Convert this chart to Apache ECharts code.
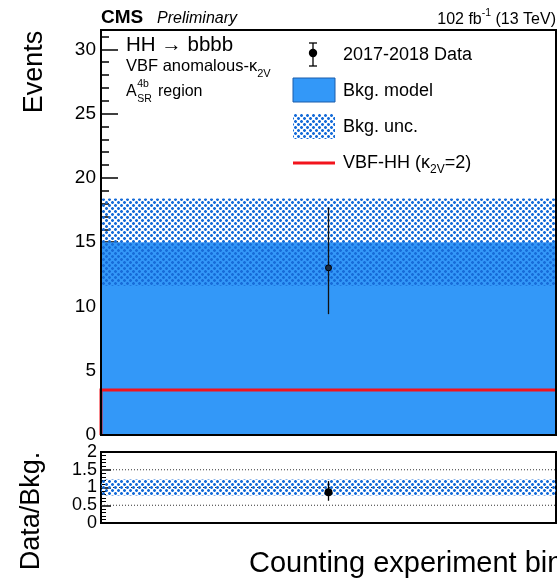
<!DOCTYPE html>
<html>
<head>
<meta charset="utf-8">
<script src="https://cdn.jsdelivr.net/npm/echarts@6/dist/echarts.min.js"></script>
<style>
  html, body { margin: 0; padding: 0; background: #ffffff; }
  #chart { width: 557px; height: 582px; }
</style>
</head>
<body>
<div id="chart"></div>
<script>
// Counting-experiment bin (single bin spanning [0, 1])
const binEdges = [0, 1];
const bkgModel = [15.0];
const bkgUnc = [3.4];
const dataCounts = [13];
const dataErrUp = [4.7];
const dataErrDn = [3.6];
const signalK2V2 = [3.5];

// Axis tick values
const eventTicks = [0, 5, 10, 15, 20, 25, 30];
const eventMinorTicks = [1, 2, 3, 4, 6, 7, 8, 9, 11, 12, 13, 14, 16, 17, 18, 19, 21, 22, 23, 24, 26, 27, 28, 29, 31];
const ratioTicks = [0, 0.5, 1, 1.5, 2];
const ratioTickLabels = ['0', '0.5', '1', '1.5', '2'];
const ratioMinorTicks = [0.1, 0.2, 0.3, 0.4, 0.6, 0.7, 0.8, 0.9, 1.1, 1.2, 1.3, 1.4, 1.6, 1.7, 1.8, 1.9];
const ratioGuides = [0.5, 1, 1.5];

const FONT = "'Liberation Sans', Arial, Helvetica, sans-serif";
const BKG_FILL = '#3398f8';
const SIG_RED = '#f2141c';

// Cross-dot hatch used for the background uncertainty (staggered round dots)
function makeHatch() {
  const n = 6;
  const c = document.createElement('canvas');
  c.width = n; c.height = n;
  const g = c.getContext('2d');
  const px = (x, y, col) => {
    const xx = ((x % n) + n) % n, yy = ((y % n) + n) % n;
    g.fillStyle = col;
    g.fillRect(xx, yy, 1, 1);
  };
  const solid = '#176cd8', soft = 'rgba(30,115,222,0.5)';
  [[1, 1], [4, 4]].forEach(([cx, cy]) => {
    px(cx, cy, solid);
    px(cx - 1, cy, solid); px(cx + 1, cy, solid);
    px(cx, cy - 1, solid); px(cx, cy + 1, solid);
    px(cx - 1, cy - 1, soft); px(cx + 1, cy - 1, soft);
    px(cx - 1, cy + 1, soft); px(cx + 1, cy + 1, soft);
  });
  return c;
}
const hatchPattern = { image: makeHatch(), repeat: 'repeat' };

// Text measuring helper for composed labels (sub/superscripts)
const mctx = document.createElement('canvas').getContext('2d');
function textW(str, size, weight, style) {
  mctx.font = (style || 'normal') + ' ' + (weight || 'normal') + ' ' + size + 'px ' + FONT;
  return mctx.measureText(str).width;
}
function txt(x, y, str, size, opts) {
  opts = opts || {};
  return {
    type: 'text', x: x, y: y, z: 100,
    rotation: opts.rotation || 0,
    style: {
      text: str, fill: '#000', fontFamily: FONT, fontSize: size,
      fontWeight: opts.weight || 'normal', fontStyle: opts.style || 'normal',
      align: opts.align || 'left', verticalAlign: 'middle'
    }
  };
}

// Bin rows
const bins = bkgModel.map((v, i) => [binEdges[i], binEdges[i + 1], v]);
const uncRows = bkgModel.map((v, i) => [binEdges[i], binEdges[i + 1], v - bkgUnc[i], v + bkgUnc[i]]);
const sigRows = signalK2V2.map((v, i) => [binEdges[i], binEdges[i + 1], v]);
const dataRows = dataCounts.map((v, i) => [(binEdges[i] + binEdges[i + 1]) / 2, v, v - dataErrDn[i], v + dataErrUp[i]]);
const ratioUncRows = bkgModel.map((v, i) => [binEdges[i], binEdges[i + 1], 1 - bkgUnc[i] / v, 1 + bkgUnc[i] / v]);
const ratioRows = dataCounts.map((v, i) => [(binEdges[i] + binEdges[i + 1]) / 2, v / bkgModel[i], (v - dataErrDn[i]) / bkgModel[i], (v + dataErrUp[i]) / bkgModel[i]]);

function rectItem(params, api, fill) {
  const a = api.coord([api.value(0), api.value(2)]);
  const b = api.coord([api.value(1), api.value(3)]);
  return {
    type: 'rect',
    shape: { x: a[0], y: Math.min(a[1], b[1]), width: b[0] - a[0], height: Math.abs(a[1] - b[1]) },
    style: { fill: fill }
  };
}

const gridTop = { left: 101, top: 30, width: 455, height: 405 };
const gridRatio = { left: 101, top: 452, width: 455, height: 71 };

const chart = echarts.init(document.getElementById('chart'), null, { renderer: 'canvas' });

const option = {
  animation: false,
  backgroundColor: '#ffffff',
  grid: [
    Object.assign({ show: true, borderColor: '#000', borderWidth: 2, backgroundColor: 'transparent', z: 10 }, gridTop),
    Object.assign({ show: true, borderColor: '#000', borderWidth: 2, backgroundColor: 'transparent' }, gridRatio)
  ],
  xAxis: [
    { type: 'value', gridIndex: 0, min: binEdges[0], max: binEdges[binEdges.length - 1],
      axisLine: { show: false }, axisTick: { show: false }, axisLabel: { show: false }, splitLine: { show: false } },
    { type: 'value', gridIndex: 1, min: binEdges[0], max: binEdges[binEdges.length - 1],
      axisLine: { show: false }, axisTick: { show: false }, axisLabel: { show: false }, splitLine: { show: false } }
  ],
  yAxis: [
    { type: 'value', gridIndex: 0, position: 'left', min: 0, max: 31.5,
      axisLine: { show: false }, splitLine: { show: false },
      axisTick: { show: true, inside: true, length: 17, customValues: eventTicks, lineStyle: { color: '#000', width: 1.5 } },
      axisLabel: { show: true, customValues: eventTicks, margin: 5, fontFamily: FONT, fontSize: 19, color: '#000',
        hideOverlap: false, showMinLabel: true, showMaxLabel: true } },
    { type: 'value', gridIndex: 0, position: 'left', min: 0, max: 31.5,
      axisLine: { show: false }, splitLine: { show: false }, axisLabel: { show: false },
      axisTick: { show: true, inside: true, length: 8, customValues: eventMinorTicks, lineStyle: { color: '#000', width: 1.5 } } },
    { type: 'value', gridIndex: 1, position: 'left', min: 0, max: 2,
      axisLine: { show: false }, splitLine: { show: false }, axisLabel: { show: false },
      axisTick: { show: true, inside: true, length: 10, customValues: ratioTicks, lineStyle: { color: '#000', width: 1.5 } } },
    { type: 'value', gridIndex: 1, position: 'left', min: 0, max: 2,
      axisLine: { show: false }, splitLine: { show: false }, axisLabel: { show: false },
      axisTick: { show: true, inside: true, length: 5, customValues: ratioMinorTicks, lineStyle: { color: '#000', width: 1 } } }
  ],
  series: [
    { // background model
      type: 'custom', xAxisIndex: 0, yAxisIndex: 0, z: 1,
      data: bins.map(r => [r[0], r[1], 0, r[2]]),
      renderItem: (p, api) => rectItem(p, api, BKG_FILL)
    },
    { // background uncertainty
      type: 'custom', xAxisIndex: 0, yAxisIndex: 0, z: 2,
      data: uncRows,
      renderItem: (p, api) => rectItem(p, api, hatchPattern)
    },
    { // VBF-HH signal histogram (left edge and bin top)
      type: 'custom', xAxisIndex: 0, yAxisIndex: 0, z: 3,
      data: sigRows,
      renderItem: (p, api) => {
        const x0 = api.value(0), x1 = api.value(1), v = api.value(2);
        return {
          type: 'polyline',
          shape: { points: [api.coord([x0, 0]), api.coord([x0, v]), api.coord([x1, v])] },
          style: { stroke: SIG_RED, lineWidth: 3, fill: null }
        };
      }
    },
    { // data with error bars
      type: 'custom', xAxisIndex: 0, yAxisIndex: 0, z: 4,
      data: dataRows,
      renderItem: (p, api) => {
        const c = api.coord([api.value(0), api.value(1)]);
        const lo = api.coord([api.value(0), api.value(2)]);
        const hi = api.coord([api.value(0), api.value(3)]);
        return {
          type: 'group',
          children: [
            { type: 'line', shape: { x1: lo[0], y1: lo[1], x2: hi[0], y2: hi[1] }, style: { stroke: '#111', lineWidth: 1.3 } },
            { type: 'circle', shape: { cx: c[0], cy: c[1], r: 3 }, style: { fill: '#1a2a40', stroke: '#000', lineWidth: 1 } }
          ]
        };
      }
    },
    { // ratio guide lines
      type: 'custom', xAxisIndex: 1, yAxisIndex: 2, z: 1,
      data: ratioGuides.map(v => [binEdges[0], binEdges[binEdges.length - 1], v]),
      renderItem: (p, api) => {
        const a = api.coord([api.value(0), api.value(2)]);
        const b = api.coord([api.value(1), api.value(2)]);
        return { type: 'line', shape: { x1: a[0], y1: a[1], x2: b[0], y2: b[1] },
          style: { stroke: '#333', lineWidth: 1, lineDash: [1, 2] } };
      }
    },
    { // ratio uncertainty band
      type: 'custom', xAxisIndex: 1, yAxisIndex: 2, z: 2,
      data: ratioUncRows,
      renderItem: (p, api) => rectItem(p, api, hatchPattern)
    },
    { // ratio points
      type: 'custom', xAxisIndex: 1, yAxisIndex: 2, z: 4,
      data: ratioRows,
      renderItem: (p, api) => {
        const c = api.coord([api.value(0), api.value(1)]);
        const lo = api.coord([api.value(0), api.value(2)]);
        const hi = api.coord([api.value(0), api.value(3)]);
        return {
          type: 'group',
          children: [
            { type: 'line', shape: { x1: lo[0], y1: lo[1], x2: hi[0], y2: hi[1] }, style: { stroke: '#000', lineWidth: 1.3 } },
            { type: 'circle', shape: { cx: c[0], cy: c[1], r: 4 }, style: { fill: '#000' } }
          ]
        };
      }
    }
  ]
};

chart.setOption(option);

// Header, annotations and legend
const g = [];
g.push(txt(101, 18, 'CMS', 19, { weight: 'bold' }));
g.push(txt(157, 19, 'Preliminary', 16, { style: 'italic' }));
{
  const right = 556;
  const w3 = textW(' (13 TeV)', 16), w2 = textW('-1', 10.5), w1 = textW('102 fb', 16);
  g.push(txt(right - w3, 19.5, ' (13 TeV)', 16));
  g.push(txt(right - w3 - w2, 13.5, '-1', 10.5));
  g.push(txt(right - w3 - w2 - w1, 19.5, '102 fb', 16));
}
g.push(txt(126, 45.5, 'HH \u2192 bbbb', 20.5));
{
  const s = 'VBF anomalous-\u03ba';
  g.push(txt(126, 66.5, s, 16.5));
  g.push(txt(126 + textW(s, 16.5), 73.5, '2V', 11));
}
{
  const wA = textW('A', 16);
  g.push(txt(126, 91.5, 'A', 16));
  g.push(txt(126 + wA + 0.5, 84, '4b', 10.5));
  g.push(txt(126 + wA + 0.5, 99, 'SR', 10.5));
  g.push(txt(158, 91.5, 'region', 16));
}
// Legend entries
g.push({ type: 'line', z: 100, shape: { x1: 313, y1: 43, x2: 313, y2: 66 }, style: { stroke: '#000', lineWidth: 1.3 } });
g.push({ type: 'line', z: 100, shape: { x1: 309, y1: 43, x2: 317, y2: 43 }, style: { stroke: '#000', lineWidth: 1.3 } });
g.push({ type: 'line', z: 100, shape: { x1: 309, y1: 66, x2: 317, y2: 66 }, style: { stroke: '#000', lineWidth: 1.3 } });
g.push({ type: 'circle', z: 100, shape: { cx: 313, cy: 53, r: 4.2 }, style: { fill: '#000' } });
g.push(txt(343, 55, '2017-2018 Data', 18));
g.push({ type: 'rect', z: 100, shape: { x: 293, y: 78, width: 42, height: 24 }, style: { fill: BKG_FILL, stroke: '#1b5cab', lineWidth: 1 } });
g.push(txt(343, 91.5, 'Bkg. model', 18));
g.push({ type: 'rect', z: 100, shape: { x: 293, y: 114, width: 42, height: 25 }, style: { fill: hatchPattern } });
g.push(txt(343, 127, 'Bkg. unc.', 18));
g.push({ type: 'line', z: 100, shape: { x1: 293, y1: 163, x2: 335, y2: 163 }, style: { stroke: SIG_RED, lineWidth: 3 } });
{
  const s1 = 'VBF-HH (\u03ba';
  const w1 = textW(s1, 18), w2 = textW('2V', 12);
  g.push(txt(343, 163.5, s1, 18));
  g.push(txt(343 + w1, 170, '2V', 12));
  g.push(txt(343 + w1 + w2, 163.5, '=2)', 18));
}
// Ratio axis tick labels, positioned through the ratio axis
ratioTicks.forEach((v, i) => {
  const y = chart.convertToPixel({ yAxisIndex: 2 }, v);
  g.push(txt(97, y, ratioTickLabels[i], 18, { align: 'right' }));
});
// Axis titles
g.push(txt(35, 72, 'Events', 27, { rotation: Math.PI / 2, align: 'center' }));
g.push(txt(32, 511, 'Data/Bkg.', 27, { rotation: Math.PI / 2, align: 'center' }));
g.push(txt(249, 564, 'Counting experiment bin', 29));

chart.setOption({ graphic: { elements: g } });
</script>
</body>
</html>
